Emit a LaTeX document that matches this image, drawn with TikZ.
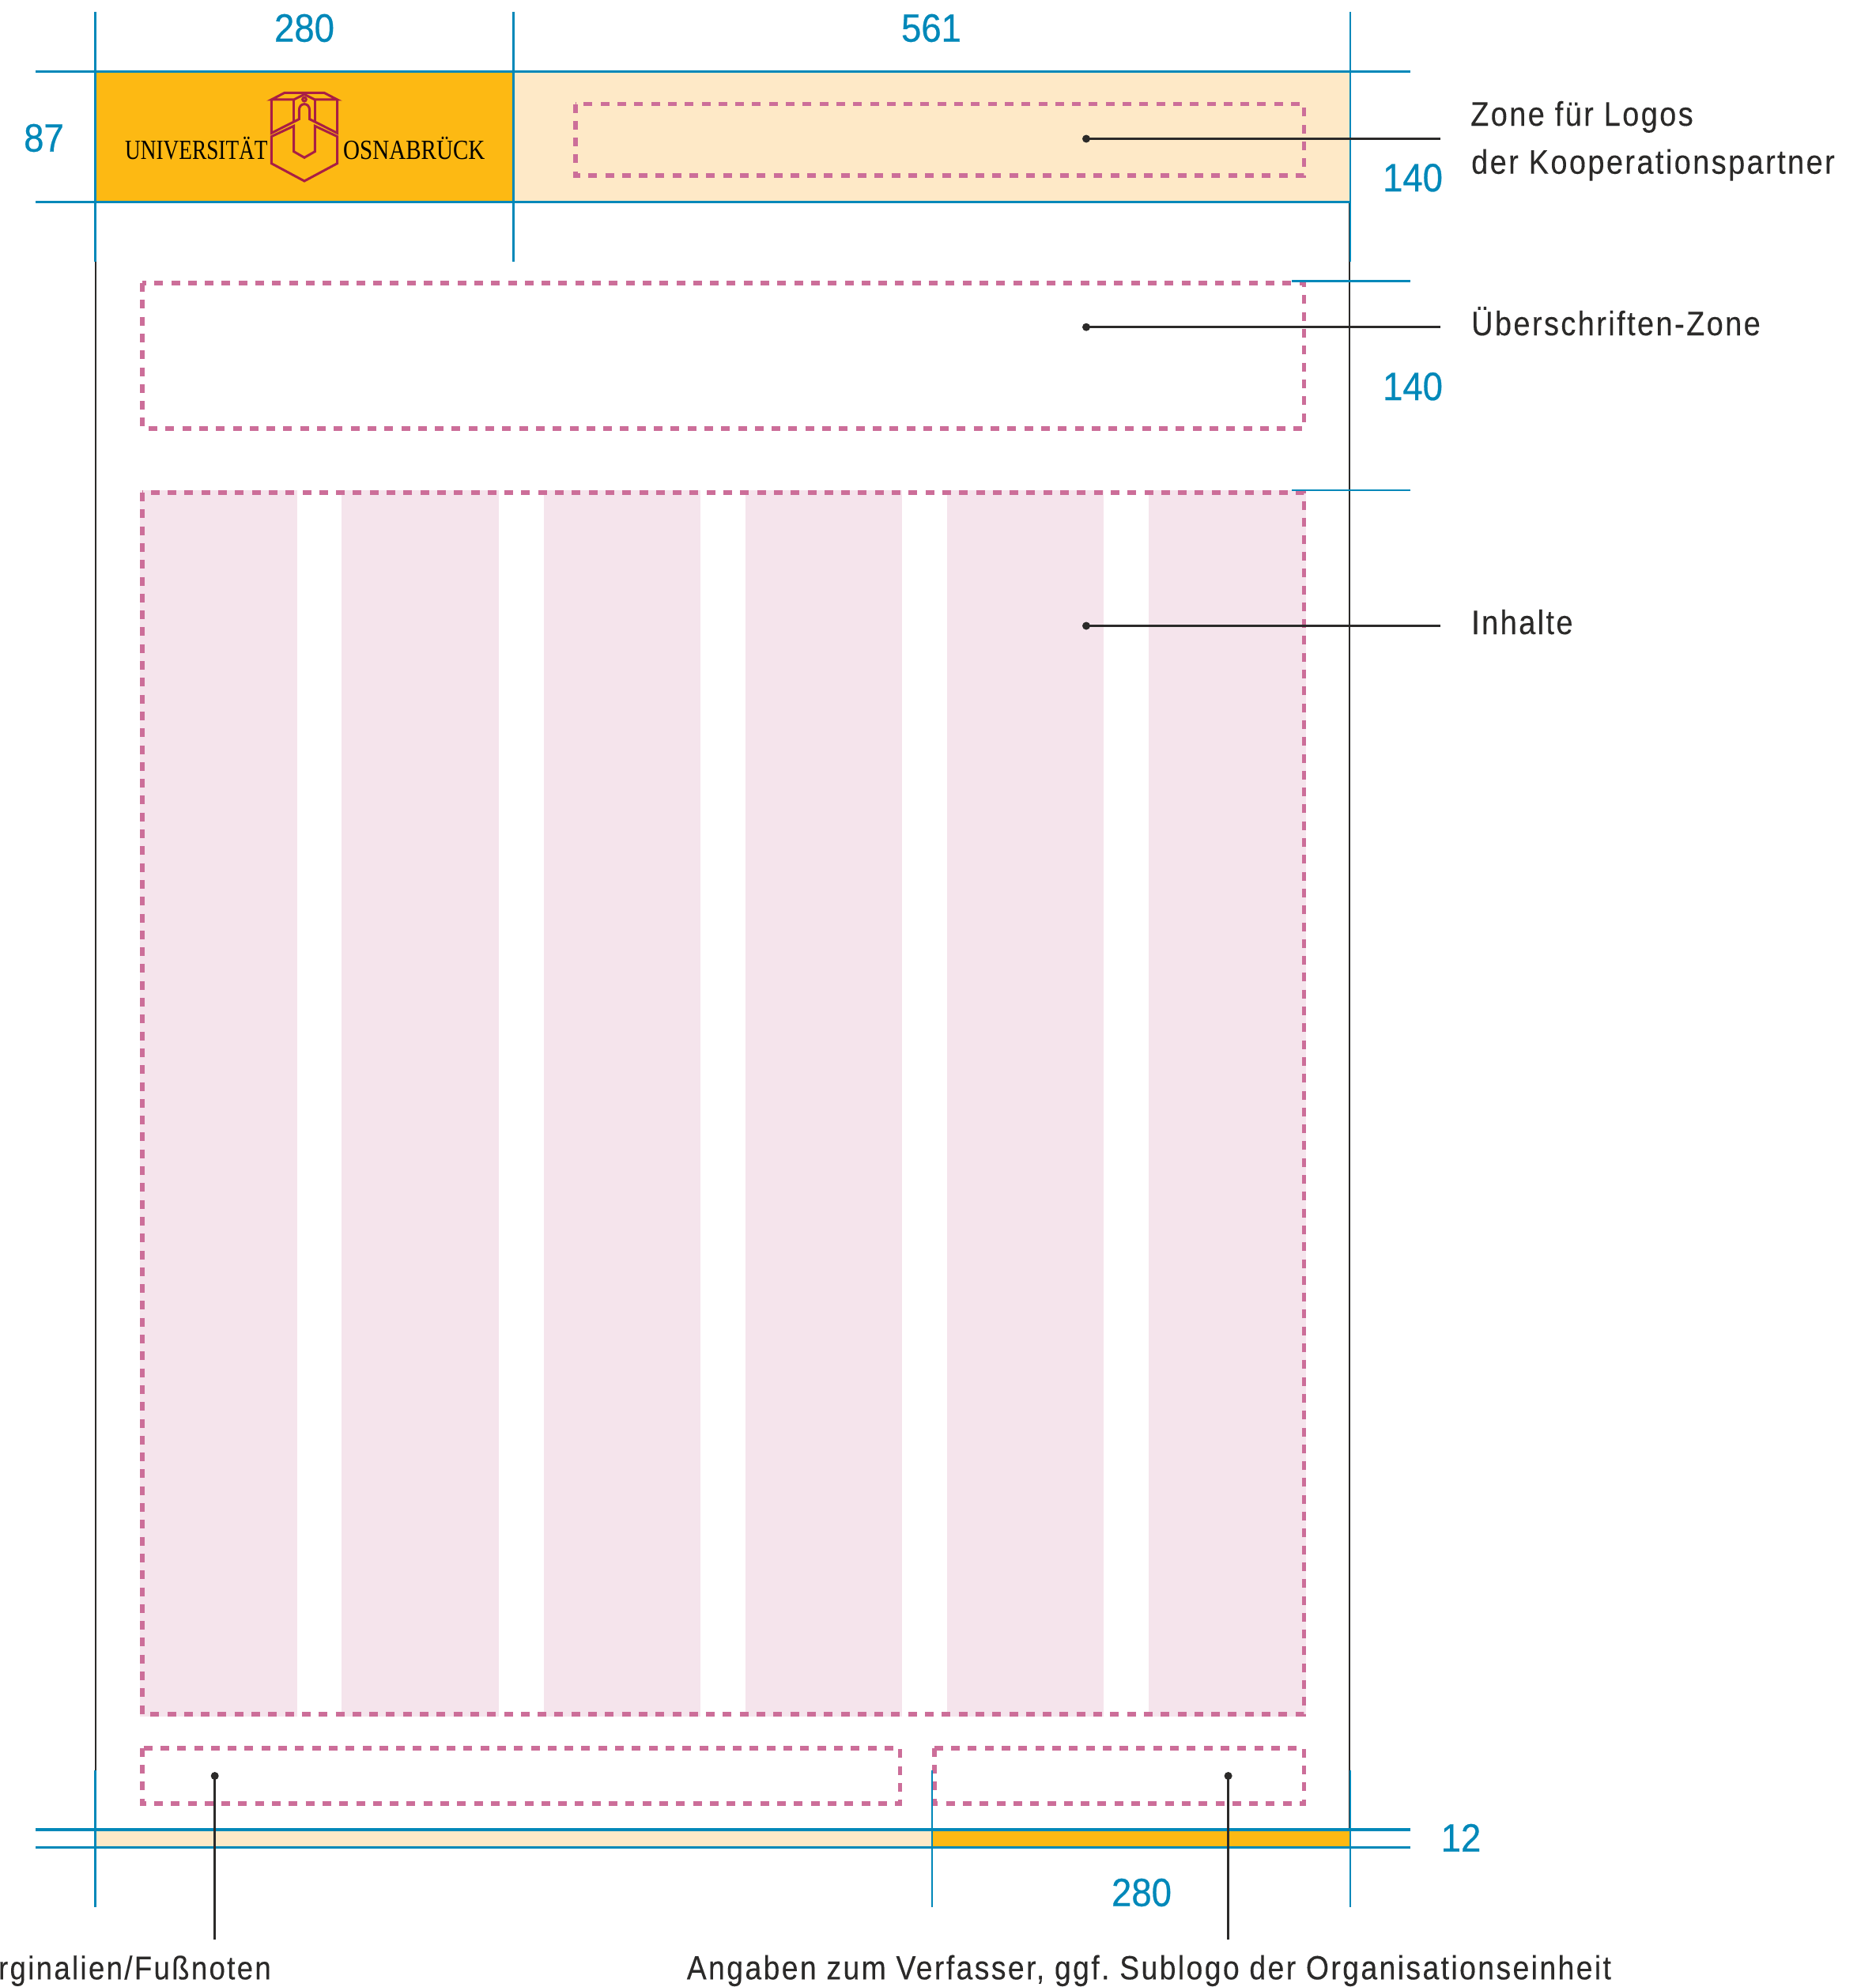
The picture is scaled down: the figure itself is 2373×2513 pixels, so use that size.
\documentclass[tikz,border=0pt]{standalone}
\usepackage{fontspec}
\setmainfont{Liberation Sans}
\frenchspacing
\newfontfamily\labelfont[FakeStretch=0.88,LetterSpace=5.7,FakeBold=0.2]{Liberation Sans}
\newfontfamily\numfont[FakeStretch=0.91,FakeBold=0.5]{Liberation Sans}
\newfontfamily\logofontA[FakeStretch=0.78]{Liberation Serif}
\newfontfamily\logofontB[FakeStretch=0.83]{Liberation Serif}
\definecolor{guide}{HTML}{0088B9}
\definecolor{uniorange}{HTML}{FDB913}
\definecolor{lightorange}{HTML}{FEE9C7}
\definecolor{colpink}{HTML}{F5E4EC}
\definecolor{zonepink}{HTML}{CC6E99}
\definecolor{ink}{HTML}{2B2A29}
\definecolor{logored}{HTML}{A91E45}
\tikzset{
  guideline/.style={draw=guide,line width=2.6pt},
  guidewide/.style={draw=guide,line width=3.2pt},
  inkline/.style={draw=ink,line width=2.8pt},
  zonebox/.style={draw=zonepink,line width=5.6pt,dash pattern=on 11pt off 10.3pt},
  dimlabel/.style={text=guide,font=\numfont\fontsize{50}{50}\selectfont,inner sep=0pt,anchor=base},
  zonelabel/.style={text=ink,font=\labelfont\fontsize{43}{43}\selectfont,inner sep=0pt,anchor=base west},
  leaderdot/.style={circle,fill=ink,inner sep=0pt,minimum size=10pt},
  logoline/.style={draw=logored,line width=3pt,line join=miter},
  logotext/.style={text=black,inner sep=0pt,anchor=base west}
}
\begin{document}
\begin{tikzpicture}[x=1pt,y=-1pt]
\useasboundingbox (0,0) rectangle (2373,2513);
% fills
\fill[uniorange] (120,90) rectangle (649.5,255);
\fill[lightorange] (649.5,90) rectangle (1708,255);
\fill[lightorange] (120,2314) rectangle (1179,2336.5);
\fill[uniorange] (1179,2314) rectangle (1708,2336.5);
\foreach \cx in {177.3,432.4,687.5,942.6,1197.7,1452.8}
  \fill[colpink] (\cx,620) rectangle ++(198.7,1550.7);
% page edges
\draw[inkline] (121,330) -- (121,2314);
\draw[inkline] (1707,255) -- (1707,2314);
% zones
\draw[zonebox] (728,131.5) rectangle (1649.5,221.8);
\draw[zonebox] (180,358) rectangle (1649.5,541.7);
\draw[zonebox] (180,623) rectangle (1649.5,2167.7);
\draw[zonebox] (180,2210.7) rectangle (1138.4,2281);
\draw[zonebox] (1181.8,2210.7) rectangle (1649.5,2281);
% guides
\draw[guideline] (120.4,15) -- (120.4,331);
\draw[guideline] (649.5,15) -- (649.5,331);
\draw[guideline] (1708,15) -- (1708,331);
\draw[guidewide] (45,90.5) -- (1784,90.5);
\draw[guidewide] (45,255.3) -- (1708,255.3);
\draw[guideline] (1634,355.6) -- (1784,355.6);
\draw[guideline] (1634,620) -- (1784,620);
\draw[guidewide] (45,2314) -- (1784,2314);
\draw[guidewide] (45,2336.7) -- (1784,2336.7);
\draw[guideline] (120.5,2239) -- (120.5,2412);
\draw[guideline] (1179,2239) -- (1179,2412);
\draw[guideline] (1708,2239) -- (1708,2412);
% logo
\begin{scope}[shift={(130,90)},x=0.3333pt,y=-0.3333pt]
  \draw[logoline] (640,108) -- (690,82) -- (840,82) -- (890,108) -- (805,108) -- (765,88) -- (725,108) -- cycle;
  \draw[logoline] (725,108) -- (725,188) (805,108) -- (805,188);
  \draw[logoline] (640,108) -- (640,235) -- (745,182) -- (745,150) .. controls (745,132) and (755,125) .. (765,125) .. controls (775,125) and (785,132) .. (785,150) -- (785,182) -- (890,235) -- (890,108);
  \draw[logoline] (640,248) -- (725,208) -- (725,305) -- (765,328) -- (805,305) -- (805,208) -- (890,248) -- (890,350) -- (765,417) -- (640,350) -- cycle;
  \draw[logoline] (765,107) circle (7);
\end{scope}
\node[logotext,font=\logofontA\fontsize{35}{35}\selectfont] (logoA) at (158,201.7) {UNIVERSITÄT};
\node[logotext,font=\logofontB\fontsize{35}{35}\selectfont] (logoB) at (434,201.7) {OSNABRÜCK};
% dimensions
\node[dimlabel] (dimA) at (385,52.7) {280};
\node[dimlabel] (dimB) at (1178,52.7) {561};
\node[dimlabel] (dimC) at (55.5,191.7) {87};
\node[dimlabel] (dimD) at (1787,242) {140};
\node[dimlabel] (dimE) at (1787,506) {140};
\node[dimlabel] (dimF) at (1848,2341.7) {12};
\node[dimlabel] (dimG) at (1444,2410.7) {280};
% labels
\node[zonelabel] (lblLogosA) at (1860,159) {Zone für Logos};
\node[zonelabel] (lblLogosB) at (1861,219.7) {der Kooperationspartner};
\node[zonelabel] (lblHead) at (1861,424) {Überschriften-Zone};
\node[zonelabel] (lblBody) at (1861,802) {Inhalte};
\node[zonelabel,anchor=base east,font=\labelfont\fontsize{41.5}{41.5}\selectfont] (lblMarg) at (343,2503.3) {rginalien/Fußnoten};
\node[zonelabel,font=\labelfont\fontsize{42.4}{42.4}\selectfont] (lblAuth) at (868.6,2503.3) {Angaben zum Verfasser, ggf. Sublogo der Organisationseinheit};
% leaders
\node[leaderdot] (dotLogos) at (1374,175.5) {};
\node[leaderdot] (dotHead) at (1374,413.7) {};
\node[leaderdot] (dotBody) at (1374,791.5) {};
\node[leaderdot] (dotMarg) at (271.7,2246) {};
\node[leaderdot] (dotAuth) at (1553.6,2246) {};
\coordinate (endLogos) at (1822,175.5);
\coordinate (endHead) at (1822,413.7);
\coordinate (endBody) at (1822,791.5);
\coordinate (endMarg) at (271.7,2453);
\coordinate (endAuth) at (1553.6,2453);
\draw[inkline] (dotLogos.center) -- (endLogos);
\draw[inkline] (dotHead.center) -- (endHead);
\draw[inkline] (dotBody.center) -- (endBody);
\draw[inkline] (dotMarg.center) -- (endMarg);
\draw[inkline] (dotAuth.center) -- (endAuth);
\end{tikzpicture}
\end{document}
